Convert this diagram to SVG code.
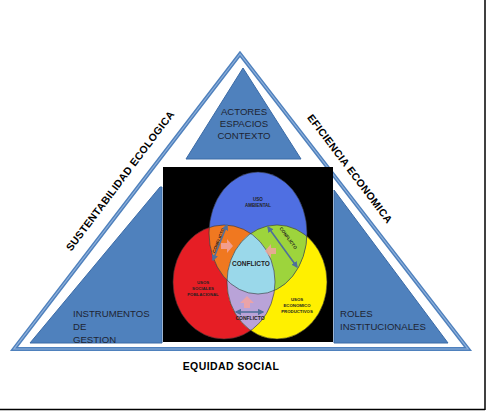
<svg xmlns="http://www.w3.org/2000/svg" width="487" height="411" viewBox="0 0 487 411">
<style>
.reg{fill:#4f81bd;stroke:#3a6aa6;stroke-width:1}
.lbl{font-family:"Liberation Sans",Arial,sans-serif;font-size:9.6px;fill:#1e2433}
.side{font-family:"Liberation Sans",Arial,sans-serif;font-size:10.5px;font-weight:bold;fill:#000}
.v{font-family:"Liberation Sans",Arial,sans-serif;font-weight:bold;fill:#222;text-anchor:middle}
.arr{stroke:#4f6f9a;stroke-width:1.6;fill:none;marker-start:url(#ah);marker-end:url(#ah)}
.pk{fill:#f2a3a0;opacity:0.85}
.ol{fill:none;stroke:#333;stroke-width:0.6}
</style>
<defs>
<marker id="ah" viewBox="0 0 10 10" refX="8" refY="5" markerWidth="4" markerHeight="4" orient="auto-start-reverse">
<path d="M0,0 L10,5 L0,10 z" fill="#4f6f9a"/>
</marker>
<clipPath id="cB"><ellipse cx="258" cy="233" rx="49" ry="61"/></clipPath>
<clipPath id="cR"><ellipse cx="224" cy="282" rx="51" ry="57"/></clipPath>
<clipPath id="cY"><ellipse cx="277" cy="282" rx="50" ry="57"/></clipPath>
</defs>
<rect width="487" height="411" fill="#fff"/>
<g id="frame">
<line x1="485" y1="0" x2="485" y2="410" stroke="#000" stroke-width="1.5"/>
<line x1="0" y1="409.5" x2="485" y2="409.5" stroke="#000" stroke-width="1.5"/>
</g>
<g id="outer-triangle">
<polygon points="240,54 14,349 468,349" fill="none" stroke="#4f81bd" stroke-width="4" stroke-linejoin="miter"/>
<polygon points="240,54 14,349 468,349" fill="none" stroke="#8fb1dc" stroke-width="1.2"/>
</g>
<g id="top-node">
<polygon class="reg" points="243,68 186,159 301,159"/>
<text class="lbl" text-anchor="middle"><tspan x="244" y="115">ACTORES</tspan><tspan x="244" y="127">ESPACIOS</tspan><tspan x="244" y="139">CONTEXTO</tspan></text>
</g>
<g id="left-node">
<polygon class="reg" points="30,343 160,187 162,187 162,343"/>
<text class="lbl"><tspan x="73" y="317">INSTRUMENTOS</tspan><tspan x="73" y="330">DE</tspan><tspan x="73" y="343">GESTION</tspan></text>
</g>
<g id="right-node">
<polygon class="reg" points="334,190 448,343 334,343"/>
<text class="lbl"><tspan x="340" y="317">ROLES</tspan><tspan x="340" y="330">INSTITUCIONALES</tspan></text>
</g>
<g id="venn">
<rect x="163" y="167" width="170" height="175" fill="#000"/>
<ellipse cx="224" cy="282" rx="51" ry="57" fill="#e61e25"/>
<ellipse cx="277" cy="282" rx="50" ry="57" fill="#fff000"/>
<ellipse cx="258" cy="233" rx="49" ry="61" fill="#4f6fe2"/>
<g clip-path="url(#cB)"><ellipse cx="224" cy="282" rx="51" ry="57" fill="#f07820"/><ellipse cx="277" cy="282" rx="50" ry="57" fill="#9dd43c"/></g>
<g clip-path="url(#cR)"><ellipse cx="277" cy="282" rx="50" ry="57" fill="#b9a3d8"/></g>
<g clip-path="url(#cR)"><g clip-path="url(#cY)"><ellipse cx="258" cy="233" rx="49" ry="61" fill="#9ad8ea"/></g></g>
<ellipse class="ol" cx="224" cy="282" rx="51" ry="57"/>
<ellipse class="ol" cx="277" cy="282" rx="50" ry="57"/>
<ellipse class="ol" cx="258" cy="233" rx="49" ry="61"/>
<path class="pk" d="M221,243 h6 v-4 l6,7 l-6,7 v-4 h-6 z"/>
<path class="pk" d="M276,248 h-5 v-4 l-6,7 l6,7 v-4 h5 z"/>
<path class="pk" d="M244,308 v-5 h-4 l7,-7 l7,7 h-4 v5 z"/>
<text class="v" font-size="4.5"><tspan x="258" y="201">USO</tspan><tspan x="258" y="207">AMBIENTAL</tspan></text>
<text class="v" font-size="4.3"><tspan x="203" y="284">USOS</tspan><tspan x="203" y="290">SOCIALES</tspan><tspan x="203" y="296">POBLACIONAL</tspan></text>
<text class="v" font-size="4.3"><tspan x="297" y="301">USOS</tspan><tspan x="297" y="307">ECONOMICO</tspan><tspan x="297" y="313">PRODUCTIVOS</tspan></text>
<text class="v" font-size="6.5" x="251" y="266">CONFLICTO</text>
<text class="v" font-size="5" x="250" y="320">CONFLICTO</text>
<text class="v" font-size="4.5" transform="translate(220,241) rotate(-68)">CONFLICTO</text>
<text class="v" font-size="4.5" transform="translate(287,239) rotate(54)">CONFLICTO</text>
</g>
<g id="connectors">
<line class="arr" x1="213" y1="260" x2="227" y2="225"/>
<line class="arr" x1="268" y1="227" x2="297" y2="267"/>
<line class="arr" x1="236" y1="312" x2="263" y2="312"/>
</g>
<g id="labels">
<text class="side" text-anchor="middle" transform="translate(123,183) rotate(-53)" letter-spacing="0.3">SUSTENTABILIDAD  ECOLOGICA</text>
<text class="side" text-anchor="middle" transform="translate(347,171) rotate(53)" letter-spacing="0.3">EFICIENCIA  ECONOMICA</text>
<text class="side" text-anchor="middle" x="231" y="370" letter-spacing="0.4">EQUIDAD  SOCIAL</text>
</g>
</svg>
